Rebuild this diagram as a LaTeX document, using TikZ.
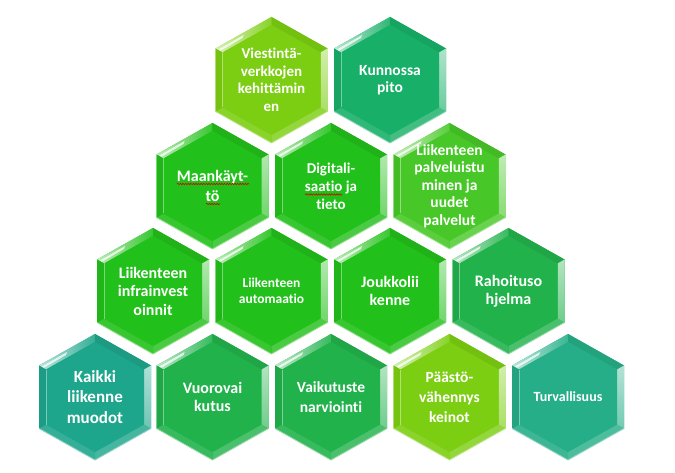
\documentclass[tikz,border=0pt]{standalone}
\usepackage{fontspec}
\setmainfont{Carlito}[Ligatures={NoCommon}]
\usetikzlibrary{decorations.pathmorphing}
\definecolor{limeg}{RGB}{124,206,18}
\definecolor{vivid}{RGB}{34,192,26}
\definecolor{lgreen}{RGB}{72,200,40}
\definecolor{mgreen}{RGB}{34,178,76}
\definecolor{tgreen}{RGB}{24,176,104}
\definecolor{teal1}{RGB}{30,166,140}
\definecolor{teal2}{RGB}{38,174,136}
\tikzset{
  hextext/.style={text=white, align=center, inner sep=0pt},
  spell/.style={red!85!black, line width=0.6pt, decorate,
    decoration={snake, amplitude=0.7pt, segment length=2.6pt}}
}
\newcommand\hexcell[7]{%
\begin{scope}[shift={(#2,#3)}]
 \fill[#4] (0,-63) -- (56,-31.5) -- (56,31.5) -- (0,63) -- (-56,31.5) -- (-56,-31.5) -- cycle;
 \shade[left color=#4!30!white, right color=#4!90!white] (-56,-31.5) -- (0,-63) -- (0,-55) -- (-49,-27.5) -- cycle;
 \fill[#4!93!black] (0,-63) -- (56,-31.5) -- (49,-27.5) -- (0,-55) -- cycle;
 \shade[top color=#4!35!white, bottom color=#4!65!white] (56,-31.5) -- (56,31.5) -- (49,27.5) -- (49,-27.5) -- cycle;
 \fill[#4!82!white] (56,31.5) -- (0,63) -- (0,55) -- (49,27.5) -- cycle;
 \fill[#4!90!white] (0,63) -- (-56,31.5) -- (-49,27.5) -- (0,55) -- cycle;
 \fill[#4!94!black] (-56,31.5) -- (-56,-31.5) -- (-49,-27.5) -- (-49,27.5) -- cycle;
 \fill[#4] (0,-55) -- (49,-27.5) -- (49,27.5) -- (0,55) -- (-49,27.5) -- (-49,-27.5) -- cycle;
 \fill[white, opacity=0.75] (-53,-30.5) -- (-28,-45) -- (-29,-42) -- (-51,-29.3) -- cycle;
 \draw[#4!45!white, line width=0.8pt] (56,31.5) -- (0,63) -- (-56,31.5);
 \draw[#4!60!white, line width=0.6pt] (-49,-27.5) -- (-49,27.5);
 \node[hextext, font=\fontsize{#5}{#6}\selectfont\bfseries] (#1) at (0,0) {#7};
\end{scope}}
\begin{document}
\begin{tikzpicture}[x=1pt, y=-1pt]
\useasboundingbox (0,0) rectangle (675,473);
\fill[white] (0,0) rectangle (675,473);
% row 1
\hexcell{viest}{271.5}{80}{limeg}{15}{17.5}{Viestintä-\\verkkojen\\kehittämin\\en}
\hexcell{kunn}{390}{80}{tgreen}{15.5}{17}{Kunnossa\\pito}
% row 2
\hexcell{maa}{212.5}{186}{vivid}{16}{20}{Maankäyt-\\tö}
\hexcell{digi}{331}{186}{vivid}{15}{18}{Digitali-\\saatio ja\\tieto}
\hexcell{palv}{449.5}{186}{lgreen}{15.5}{17.5}{Liikenteen\\palveluistu\\minen ja\\uudet\\palvelut}
% row 3
\hexcell{infra}{153}{291}{vivid}{16}{18.5}{Liikenteen\\infrainvest\\oinnit}
\hexcell{auto}{271.5}{291}{vivid}{13.5}{15.5}{Liikenteen\\automaatio}
\hexcell{jouk}{390}{291}{vivid}{16}{17.5}{Joukkolii\\kenne}
\hexcell{raho}{508.5}{291}{mgreen}{16}{18}{Rahoituso\\hjelma}
% row 4
\hexcell{kaik}{95}{397}{teal1}{17}{20.5}{Kaikki\\liikenne\\muodot}
\hexcell{vuor}{212.5}{397}{mgreen}{16}{18}{Vuorovai\\kutus}
\hexcell{vaik}{331}{397}{mgreen}{15.5}{20}{Vaikutuste\\narviointi}
\hexcell{paas}{449.5}{397}{limeg}{15.5}{20}{Päästö-\\vähennys\\keinot}
\hexcell{turv}{568}{397}{teal2}{14}{17}{Turvallisuus}
% spelling marks
\coordinate (s1a) at (177,184); \coordinate (s1b) at (249,184);
\coordinate (s2a) at (206,204); \coordinate (s2b) at (220,204);
\coordinate (s3a) at (305,194.5); \coordinate (s3b) at (342,194.5);
\draw[spell] (s1a) -- (s1b);
\draw[spell] (s2a) -- (s2b);
\draw[spell] (s3a) -- (s3b);
\end{tikzpicture}
\end{document}
